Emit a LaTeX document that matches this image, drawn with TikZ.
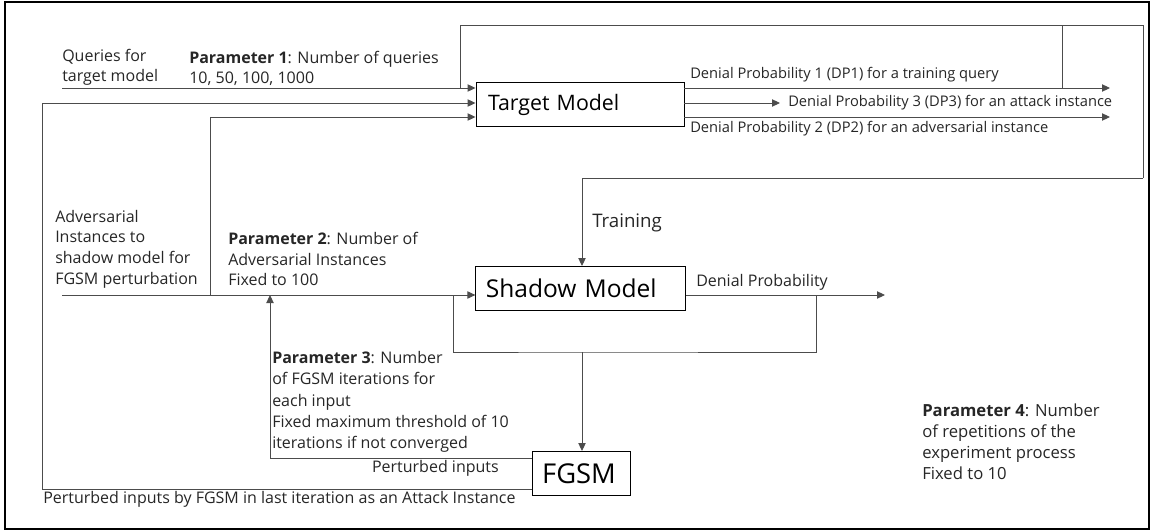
\documentclass[tikz,border=0pt]{standalone}
\usepackage{fontspec}
\setmainfont{Open Sans}
\usetikzlibrary{arrows.meta}

\begin{document}
\begin{tikzpicture}[x=0.75pt,y=-0.75pt]
\tikzstyle{model}=[draw=black, line width=0.7pt, align=left, minimum height=33pt]
\tikzstyle{wire}=[draw=black!70, line width=0.7pt]
\tikzstyle{arr}=[wire, -{Triangle[length=6pt,width=5.5pt]}]
\tikzstyle{label}=[inner sep=0pt, align=left, text=black!85, font=\fontsize{12}{15.5}\selectfont]
\tikzstyle{note}=[inner sep=0pt, align=left, text=black!85, font=\fontsize{11}{13}\selectfont]

\useasboundingbox (0,0) rectangle (1153,531);
\draw[line width=1.2pt] (5,2) rectangle (1149,529);

% the three models
\node[model, inner xsep=9pt, text width=138pt, font=\fontsize{16}{19}\selectfont] (target) at (580,104.5) {Target Model};
\node[model, inner xsep=7.5pt, text width=142pt, font=\fontsize{18.4}{21}\selectfont] (shadow) at (580.5,288.5) {Shadow Model};
\node[model, inner xsep=7pt, text width=59pt, font=\fontsize{20.5}{23}\selectfont] (fgsm) at (581.5,473.5) {FGSM};

% texts
\node[label, anchor=west, font=\fontsize{12}{15}\selectfont] (queries) at (62,67) {Queries for\\target model};
\node[label, anchor=west, font=\fontsize{12}{15}\selectfont] (param1) at (189,68) {\textbf{Parameter 1}: Number of queries\\10, 50, 100, 1000};
\node[label, anchor=west] (advin) at (55,249) {Adversarial\\Instances to\\shadow model for\\FGSM perturbation};
\node[label, anchor=west] (param2) at (228,259) {\textbf{Parameter 2}: Number of\\Adversarial Instances\\Fixed to 100};
\node[label, anchor=west, font=\fontsize{12}{16}\selectfont] (param3) at (272,402) {\textbf{Parameter 3}: Number\\of FGSM iterations for\\each input\\Fixed maximum threshold of 10\\iterations if not converged};
\node[label, anchor=west, font=\fontsize{12.5}{15.75}\selectfont] (param4) at (922,442) {\textbf{Parameter 4}: Number\\of repetitions of the\\experiment process\\Fixed to 10};
\node[label, anchor=west, font=\fontsize{14}{16}\selectfont] (training) at (592,223) {Training};
\node[note, anchor=west] (dp1) at (690,75) {Denial Probability 1 (DP1) for a training query};
\node[note, anchor=west] (dp3) at (788,103) {Denial Probability 3 (DP3) for an attack instance};
\node[note, anchor=west] (dp2) at (690,129) {Denial Probability 2 (DP2) for an adversarial instance};
\node[label, anchor=west] (dpshadow) at (696,282) {Denial Probability};
\node[label, anchor=east] (pin) at (499,468) {Perturbed inputs};
\node[label, anchor=west] (pattack) at (43,499) {Perturbed inputs by FGSM in last iteration as an Attack Instance};

% named points for free ends and bends
\coordinate (qstart) at (62,88);
\coordinate (loopup) at (460,88);
\coordinate (topleft) at (460,25);
\coordinate (topright) at (1143,25);
\coordinate (dp1up) at (1062,88);
\coordinate (dp1end) at (1110,88);
\coordinate (dp2end) at (1110,117);
\coordinate (dp3end) at (780,103);
\coordinate (drop) at (1143,178);
\coordinate (advstart) at (62,295);
\coordinate (advsplit) at (210,295);
\coordinate (advup) at (210,117);
\coordinate (leftbot) at (42,489);
\coordinate (lefttop) at (42,103);
\coordinate (shloopl) at (453,295);
\coordinate (shloopr) at (816,295);
\coordinate (shbot) at (582,352);
\coordinate (shout) at (885,295);
\coordinate (pback) at (270,295);

% inputs of the target model
\draw[arr] (qstart) -- (qstart -| target.west);
\draw[arr] (fgsm.west |- leftbot) -- (leftbot) -- (lefttop) -- (lefttop -| target.west);
\draw[arr] (advup) -- (advup -| target.west);
\draw[wire] (advup) -- (advsplit);

% outputs of the target model
\draw[arr] (target.east |- dp1end) -- (dp1end);
\draw[arr] (target.east |- dp3end) -- (dp3end);
\draw[arr] (target.east |- dp2end) -- (dp2end);

% training loop into the shadow model
\draw[wire] (loopup) -- (topleft) -- (topright) -- (drop);
\draw[wire] (dp1up) -- (dp1up |- topright);
\draw[arr] (drop) -| (shbot |- shadow.north);

% shadow model and FGSM
\draw[arr] (advstart) -- (advstart -| shadow.west);
\draw[arr] (shadow.east |- shout) -- (shout);
\draw[wire] (shloopl) |- (shbot) -| (shloopr);
\draw[arr] (shbot) -- (shbot |- fgsm.north);
\draw[arr] (fgsm.west |- 0,458) -| (pback);
\end{tikzpicture}
\end{document}
